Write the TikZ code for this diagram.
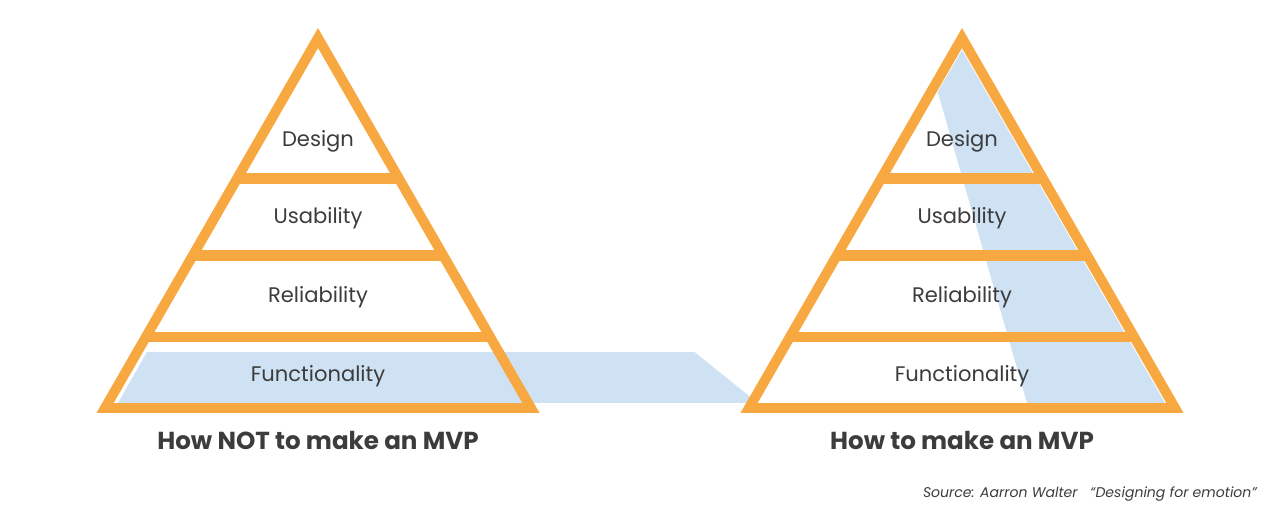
\documentclass[tikz,border=0pt]{standalone}
\usepackage{fontspec}
\setmainfont{Poppins}
\definecolor{pyrorange}{HTML}{F8A840}
\definecolor{pyrblue}{HTML}{CFE2F3}
\definecolor{pyrtext}{HTML}{3C3C3C}
\tikzset{
  edge/.style={draw=pyrorange, line width=10*0.567pt, line join=miter},
  band/.style={draw=pyrorange, line width=11*0.567pt},
  layer/.style={text=pyrtext, font=\fontsize{12}{14}\selectfont},
  caption/.style={text=pyrtext, font=\fontsize{14}{16}\selectfont\bfseries}
}
\begin{document}
\begin{tikzpicture}[x=0.02cm,y=-0.02cm]
\useasboundingbox (0,0) rectangle (1280,512);

% left pyramid
\begin{scope}
\clip (318,50) -- (758,403) -- (118,403) -- cycle;
\fill[pyrblue] (0,352) rectangle (1280,403);
\end{scope}
\begin{scope}
\clip (318,38) -- (531,408) -- (105,408) -- cycle;
\draw[band] (0,178.5) -- (1280,178.5);
\draw[band] (0,255.5) -- (1280,255.5);
\draw[band] (0,337) -- (1280,337);
\end{scope}
\draw[edge] (318,38) -- (531,408) -- (105,408) -- cycle;
\node[layer] (d1) at (318,141) {Design};
\node[layer] (u1) at (318,218) {Usability};
\node[layer] (r1) at (318,297) {Reliability};
\node[layer] (f1) at (318,376) {Functionality};
\node[caption] (c1) at (318,440) {How NOT to make an MVP};

% right pyramid
\begin{scope}
\clip (962,50) -- (1165,403) -- (758,403) -- cycle;
\fill[pyrblue] (962,40) -- (1200,403) -- (1027,403) -- (938,93) -- (930,40) -- cycle;
\end{scope}
\begin{scope}
\clip (962,38) -- (1175,408) -- (749,408) -- cycle;
\draw[band] (700,178.5) -- (1280,178.5);
\draw[band] (700,255.5) -- (1280,255.5);
\draw[band] (700,337) -- (1280,337);
\end{scope}
\draw[edge] (962,38) -- (1175,408) -- (749,408) -- cycle;
\node[layer] (d2) at (962,141) {Design};
\node[layer] (u2) at (962,218) {Usability};
\node[layer] (r2) at (962,297) {Reliability};
\node[layer] (f2) at (962,376) {Functionality};
\node[caption] (c2) at (962,440) {How to make an MVP};

\node[anchor=east, text=pyrtext, font=\fontsize{8}{10}\selectfont\itshape] (src) at (1263,494) {Source: Aarron Walter \ \ “Designing for emotion”};
\end{tikzpicture}
\end{document}
